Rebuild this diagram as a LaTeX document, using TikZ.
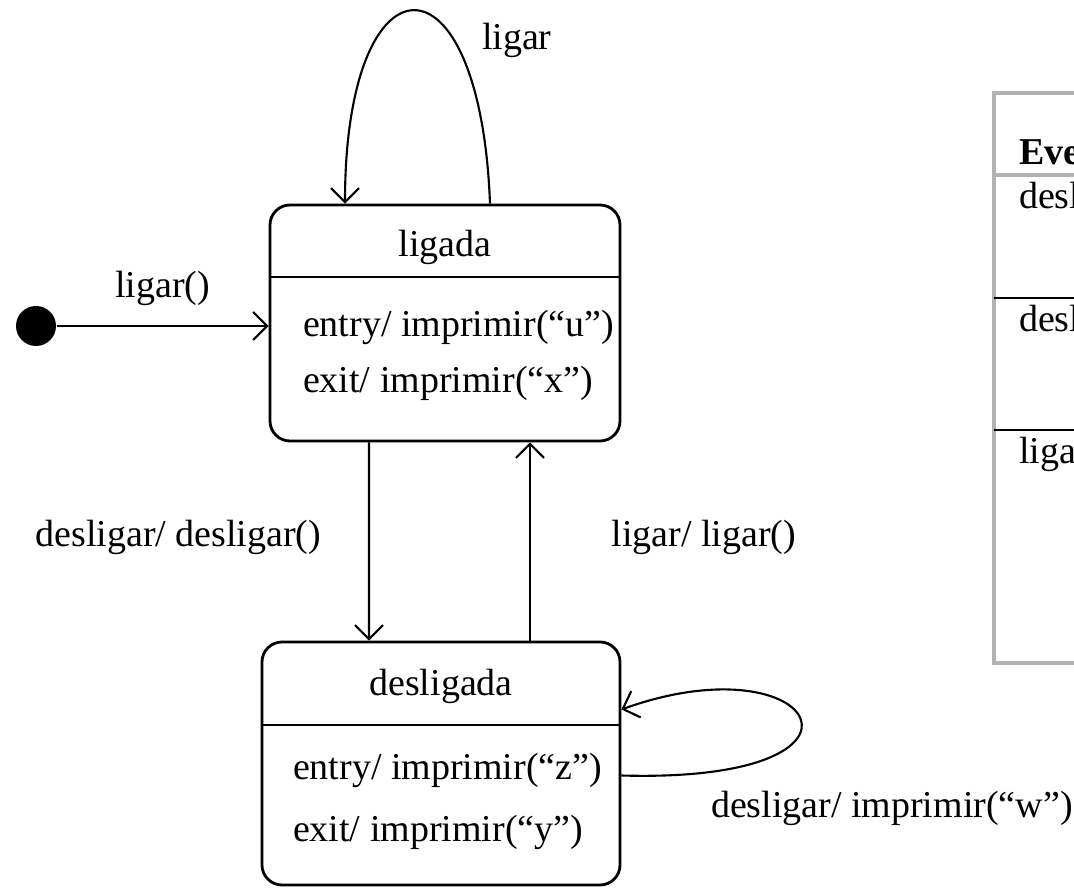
\documentclass[tikz,border=0pt]{standalone}
\usepackage{fontspec}
\setmainfont{Liberation Serif}
\usetikzlibrary{arrows,arrows.meta,positioning,calc}
\begin{document}
\begin{tikzpicture}
 [->,>={Straight Barb[length=1.4mm,width=2.8mm]},semithick,
 font=\fontsize{10.8}{13}\selectfont,
 statebox/.style={draw,rounded corners=0.2cm,line width=0.8pt,inner sep=0pt},
 stname/.style={inner sep=0pt},
 act/.style={anchor=west,inner sep=0pt},
 tabline/.style={draw=gray!60,line width=1.2pt}]
\useasboundingbox (0,0) rectangle (10.74,8.89);
\clip (0,0) rectangle (10.74,8.89);

\node (init) at (0.36,5.63)[circle,fill,inner sep=0pt,minimum size=0.40cm] {};

\node (ligada) at (4.45,5.66)[statebox,minimum width=3.50cm,minimum height=2.36cm] {};
\node (ligadaT) at (4.45,6.42)[stname] {ligada};
\draw[-,line width=0.8pt] (ligada.west |- 0,6.12) -- (ligada.east |- 0,6.12);
\node (ligadaE) at (3.02,5.62)[act] {entry/ imprimir(“u”)};
\node (ligadaX) at (3.02,5.06)[act] {exit/ imprimir(“x”)};

\node (desligada) at (4.41,1.255)[statebox,minimum width=3.58cm,minimum height=2.43cm] {};
\node (desligadaT) at (4.41,2.03)[stname] {desligada};
\draw[-,line width=0.8pt] (desligada.west |- 0,1.64) -- (desligada.east |- 0,1.64);
\node (desligadaE) at (2.92,1.19)[act] {entry/ imprimir(“z”)};
\node (desligadaX) at (2.92,0.57)[act] {exit/ imprimir(“y”)};

\draw (init) -- (init -| ligada.west) node [pos=0.5,above=0.08cm] {ligar()};

\draw ([xshift=-0.76cm]ligada.south) -- ([xshift=-0.72cm]desligada.north)
 node [pos=0.48,left=0.35cm] {desligar/ desligar()};
\draw ([xshift=0.89cm]desligada.north) -- ([xshift=0.85cm]ligada.south)
 node [pos=0.52,right=0.69cm] {ligar/ ligar()};

\draw ([xshift=0.45cm]ligada.north) .. controls +(-0.1,2.61) and +(0,2.54) .. ([xshift=-1.00cm]ligada.north)
 node [pos=0.3,right=0.15cm] {ligar};

\draw ([yshift=-0.12cm]desligada.east) .. controls +(2.80,-0.08) and +(1.97,0.71) .. ([yshift=0.54cm]desligada.east);
\node (wlabel) at (7.10,0.81)[act] {desligar/ imprimir(“w”)};

\draw[-,tabline] (9.94,2.26) rectangle (11.5,7.96);
\draw[-,tabline] (9.94,7.14) -- (11.5,7.14);
\draw[-] (9.94,5.91) -- (11.5,5.91);
\draw[-] (9.94,4.59) -- (11.5,4.59);
\node (evento) at (10.18,7.37)[act] {\textbf{Evento}};
\node (ev1) at (10.18,6.90)[act] {desligar};
\node (ev2) at (10.18,5.67)[act] {desligar};
\node (ev3) at (10.18,4.35)[act] {ligar};
\end{tikzpicture}
\end{document}
